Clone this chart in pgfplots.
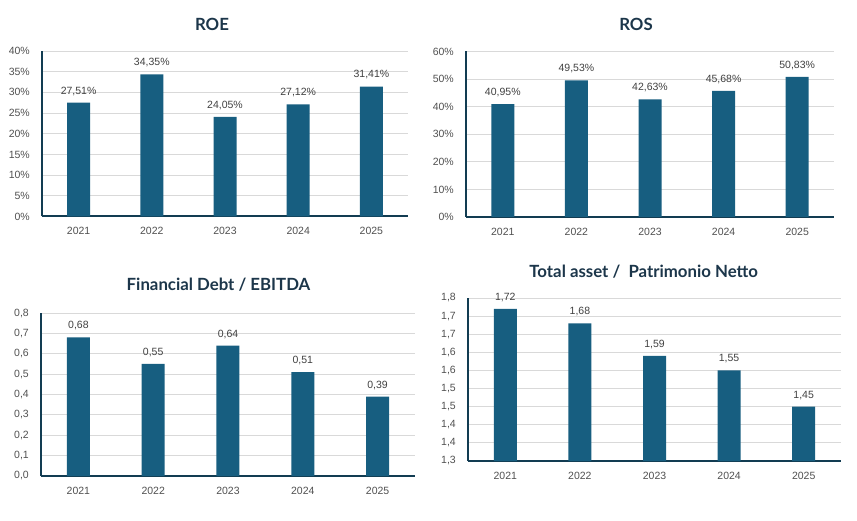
\documentclass[border=0pt]{standalone}
\usepackage{pgfplots}
\pgfplotsset{compat=1.18}
\usepackage{fontspec}
\setmainfont{Liberation Sans}
\newfontfamily\titlefont{Lato}
\definecolor{barc}{RGB}{23,94,128}
\definecolor{axc}{RGB}{18,60,82}
\definecolor{titc}{RGB}{28,54,74}
\definecolor{tickc}{RGB}{80,80,80}
\definecolor{labc}{RGB}{64,64,64}
\definecolor{gridc}{RGB}{217,217,217}
\pgfplotsset{
  panel/.style={
    scale only axis, anchor=south west,
    xmin=-0.5, xmax=4.5, xtick={0,1,2,3,4}, xticklabels={2021,2022,2023,2024,2025},
    axis x line*=bottom, axis y line*=left,
    axis line style={axc, line width=2pt, -},
    major tick length=0pt,
    ymajorgrids, grid style={gridc, line width=1pt},
    ybar, bar width=23pt,
    tick label style={font=\fontsize{10.5}{12}\selectfont, text=tickc},
    xticklabel style={inner sep=0pt, yshift=-10.5pt},
    yticklabel style={inner sep=0pt, xshift=-12pt},
    /pgf/number format/assume math mode=true,
    every node near coord/.append style={font=\fontsize{10.5}{12}\selectfont, text=labc, inner sep=0pt, yshift=7pt},
    clip=false,
  },
  barst/.style={fill=barc, draw=none},
}
\begin{document}
\begin{tikzpicture}
\path (0,0) rectangle (857pt,520pt);
% ROE
\begin{axis}[panel, at={(42pt,303.5pt)}, width=366pt, height=165.5pt,
  ymin=0, ymax=40, ytick={0,5,...,40},
  yticklabel={\pgfmathprintnumber[fixed,precision=0]{\tick}\%},
  nodes near coords={\pgfmathprintnumber[fixed,fixed zerofill,precision=2,use comma]{\pgfplotspointmeta}\%}]
\addplot[barst] coordinates {(0,27.51) (1,34.35) (2,24.05) (3,27.12) (4,31.41)};
\end{axis}
% ROS
\begin{axis}[panel, at={(466pt,303pt)}, width=368pt, height=165.5pt,
  ymin=0, ymax=60, ytick={0,10,...,60},
  yticklabel={\pgfmathprintnumber[fixed,precision=0]{\tick}\%},
  nodes near coords={\pgfmathprintnumber[fixed,fixed zerofill,precision=2,use comma]{\pgfplotspointmeta}\%}]
\addplot[barst] coordinates {(0,40.95) (1,49.53) (2,42.63) (3,45.68) (4,50.83)};
\end{axis}
% Financial Debt / EBITDA
\begin{axis}[panel, at={(41pt,44pt)}, width=374pt, height=163pt,
  ymin=0, ymax=0.8, ytick={0,0.1,...,0.8},
  yticklabel={\pgfmathprintnumber[fixed,fixed zerofill,precision=1,use comma]{\tick}},
  nodes near coords={\pgfmathprintnumber[fixed,fixed zerofill,precision=2,use comma]{\pgfplotspointmeta}}]
\addplot[barst] coordinates {(0,0.68) (1,0.55) (2,0.64) (3,0.51) (4,0.39)};
\end{axis}
% Total asset / Patrimonio Netto
\begin{axis}[panel, at={(468pt,59pt)}, width=373pt, height=163pt,
  ymin=1.3, ymax=1.75, ytick={1.3,1.35,1.4,1.45,1.5,1.55,1.6,1.65,1.7,1.75},
  yticklabels={{1,3},{1,4},{1,4},{1,5},{1,5},{1,6},{1,6},{1,7},{1,7},{1,8}},
  nodes near coords={\pgfmathprintnumber[fixed,fixed zerofill,precision=2,use comma]{\pgfplotspointmeta}}]
\addplot[barst, bar shift=0pt] coordinates {(0,1.72) (1,1.68) (2,1.59) (3,1.55) (4,1.45)};
\end{axis}
\begin{scope}[every node/.style={font=\titlefont\bfseries\fontsize{16.8}{20}\selectfont, text=titc}]
\node at (212pt,496pt) {ROE};
\node at (636pt,496pt) {ROS};
\node at (218.5pt,235pt) {Financial Debt / EBITDA};
\node at (643.7pt,248pt) {Total asset /\ \ Patrimonio Netto};
\end{scope}
\end{tikzpicture}
\end{document}
